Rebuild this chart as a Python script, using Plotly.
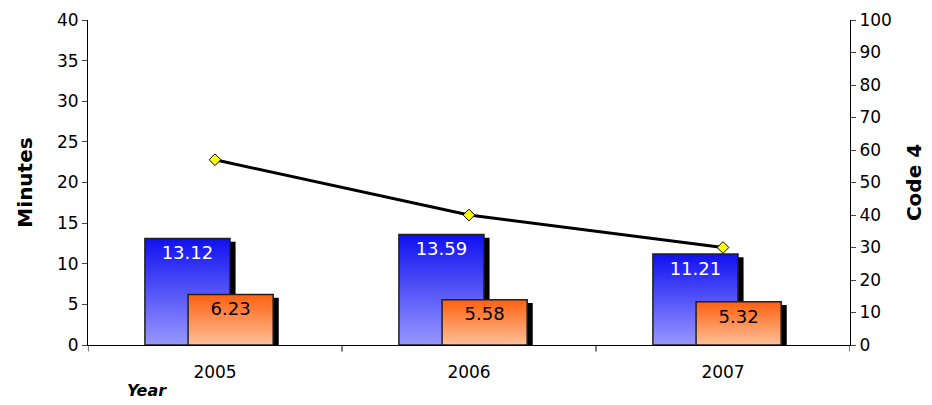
import plotly.graph_objects as go

years = ["2005", "2006", "2007"]
minutes_a = [13.12, 13.59, 11.21]
minutes_b = [6.23, 5.58, 5.32]
code4 = [57, 40, 30]

fig = go.Figure()
pos = list(range(len(years)))
w = 0.335
shadow_dx = 0.022
shadow_dy = 0.4


def add_bar(i, left, val, colors, txt_color):
    # shadow first
    fig.add_trace(go.Scatter(x=[left + shadow_dx, left + w + shadow_dx, left + w + shadow_dx, left + shadow_dx, left + shadow_dx],
                             y=[0, 0, val - shadow_dy, val - shadow_dy, 0], fill="toself", fillcolor="black",
                             line=dict(width=0), mode="lines", hoverinfo="skip", showlegend=False))
    fig.add_trace(go.Scatter(x=[left, left + w, left + w, left, left], y=[0, 0, val, val, 0], fill="toself",
                             fillgradient=dict(type="vertical", colorscale=[[0, colors[1]], [1, colors[0]]]),
                             line=dict(color="#202020", width=1.5), mode="lines", hoverinfo="skip", showlegend=False))
    fig.add_trace(go.Scatter(x=[left + w / 2], y=[val - 2.0], mode="text", text=[f"{val:.2f}"],
                             textfont=dict(color=txt_color, size=18, family="DejaVu Sans"),
                             hoverinfo="skip", showlegend=False))


for i in pos:
    add_bar(i, i - 0.276, minutes_a[i], ("#1010f0", "#9898ff"), "white")
    add_bar(i, i - 0.106, minutes_b[i], ("#ff6010", "#ffc098"), "black")

fig.add_trace(go.Scatter(x=pos, y=code4, yaxis="y2", mode="lines+markers",
                         line=dict(color="black", width=3),
                         marker=dict(symbol="diamond", size=9, color="#ffff00", line=dict(color="black", width=1)),
                         showlegend=False))

for b in [-0.5, 0.5, 1.5, 2.5]:
    fig.add_shape(type="line", xref="x", yref="paper", x0=b, x1=b, y0=0, y1=-0.02,
                  line=dict(color="black", width=1))

# the page body has an 8px margin, so the figure is sized to fit the window
fig.update_layout(
    width=924, height=397, margin=dict(l=80, r=82, t=12, b=60),
    plot_bgcolor="white", paper_bgcolor="white",
    font=dict(family="DejaVu Sans", size=17, color="black"),
    xaxis=dict(range=[-0.5, 2.5], tickvals=pos, ticktext=years, ticks="", showgrid=False, automargin=False,
               showline=True, linecolor="black", zeroline=False, ticklabelstandoff=12),
    yaxis=dict(range=[0, 40], dtick=5, title=dict(text="<b>Minutes</b>", standoff=18), ticks="outside",
               ticklen=5, showgrid=False, showline=True, linecolor="black", zeroline=False, automargin=False),
    yaxis2=dict(range=[0, 100], dtick=10, overlaying="y", side="right", title=dict(text="<b>Code 4</b>", standoff=16),
                ticks="outside", ticklen=5, showgrid=False, showline=True, linecolor="black", zeroline=False,
                automargin=False),
    annotations=[dict(text="<b><i>Year</i></b>", xref="paper", yref="paper", x=0.048, y=-0.14,
                      xanchor="left", yanchor="middle", showarrow=False, font=dict(size=16))],
)

fig.write_html("out.html")
